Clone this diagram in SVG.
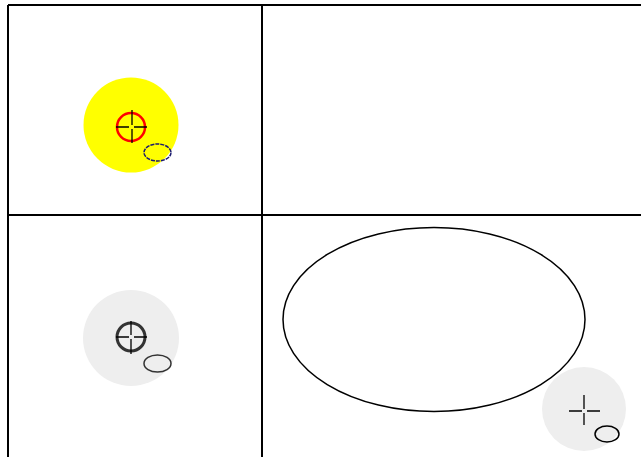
<svg xmlns="http://www.w3.org/2000/svg" width="641" height="457" viewBox="0 0 641 457">
<style>
.grid{stroke:#000;stroke-width:2;fill:none}
.cross{stroke:#000;stroke-width:1.3;fill:none}
.small{fill:none;stroke-width:1.5}
</style>
<rect width="641" height="457" fill="#fff"/>
<g id="grid">
<line class="grid" x1="8" y1="5" x2="641" y2="5"/>
<line class="grid" x1="8" y1="5" x2="8" y2="457"/>
<line class="grid" x1="262" y1="5" x2="262" y2="457"/>
<line class="grid" x1="8" y1="215" x2="641" y2="215"/>
</g>
<g id="node-yellow">
<circle cx="131" cy="125" r="47.5" fill="#ffff00"/>
<circle cx="131" cy="127" r="14" fill="none" stroke="#ff0000" stroke-width="2.5"/>
<path class="cross" d="M116 127H129M134 127H147M132 110V125M132 129V143"/>
<ellipse class="small" cx="157.5" cy="152.5" rx="13.5" ry="8.5" stroke="#1a1a6e" stroke-dasharray="4,1"/>
</g>
<g id="node-gray">
<circle cx="131" cy="338" r="48" fill="#eeeeee"/>
<circle cx="131" cy="337" r="14" fill="none" stroke="#333" stroke-width="3"/>
<path class="cross" d="M116 337H129M134 337H147M131 321V335M131 339V354"/>
<ellipse class="small" cx="157.5" cy="363.5" rx="13.5" ry="8.5" stroke="#333"/>
</g>
<g id="node-ellipse">
<ellipse cx="434" cy="319.5" rx="151" ry="92" fill="none" stroke="#000" stroke-width="1.5"/>
</g>
<g id="node-gray2">
<circle cx="584" cy="409" r="42" fill="#eeeeee"/>
<path class="cross" d="M569 411H582M587 411H600M584 395V409M584 413V425"/>
<ellipse class="small" cx="607" cy="434" rx="12" ry="8" stroke="#000"/>
</g>
</svg>
